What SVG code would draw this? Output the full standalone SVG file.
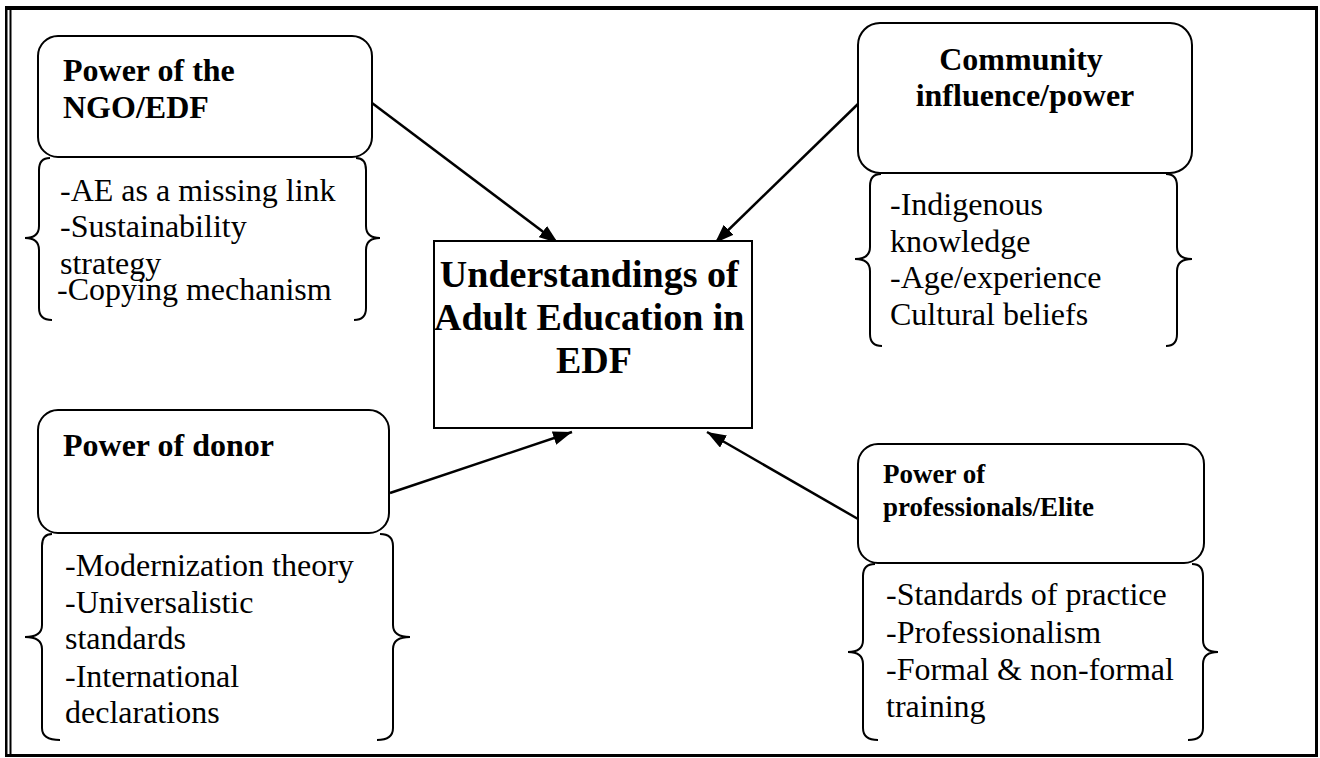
<svg xmlns="http://www.w3.org/2000/svg" width="1320" height="758" viewBox="0 0 1320 758">
  <style>
    .box { fill: #ffffff; stroke: #000000; stroke-width: 2; }
    .brace { fill: none; stroke: #000000; stroke-width: 2; }
    .frame { fill: #000000; }
    .edge { stroke: #000000; stroke-width: 2.5; fill: none; }
    .title { font-family: "Liberation Serif", "Times New Roman", serif; font-weight: bold; font-size: 32px; fill: #000000; }
    .small-title { font-family: "Liberation Serif", "Times New Roman", serif; font-weight: bold; font-size: 27px; fill: #000000; }
    .center-title { font-family: "Liberation Serif", "Times New Roman", serif; font-weight: bold; font-size: 38px; fill: #000000; }
    .body { font-family: "Liberation Serif", "Times New Roman", serif; font-size: 32px; fill: #000000; }
  </style>
  <defs>
    <marker id="arrow" markerUnits="userSpaceOnUse" markerWidth="19" markerHeight="14" refX="19" refY="7" orient="auto">
      <path d="M0,0 L19,7 L0,14 Z" fill="#000000"/>
    </marker>
  </defs>

  <rect x="0" y="0" width="1320" height="758" fill="#ffffff"/>

  <!-- page frame: heavy top, double left rule, heavy right and bottom -->
  <g id="frame">
    <rect class="frame" x="5" y="6" width="1313" height="4"/>
    <rect class="frame" x="5" y="6" width="2.5" height="751"/>
    <rect class="frame" x="9.5" y="10" width="2" height="745"/>
    <rect class="frame" x="1315" y="6" width="3" height="751"/>
    <rect class="frame" x="5" y="754" width="1313" height="3"/>
  </g>

  <!-- connectors -->
  <g id="connectors">
    <line class="edge" x1="372" y1="103" x2="558" y2="243" marker-end="url(#arrow)"/>
    <line class="edge" x1="859" y1="103" x2="715" y2="243" marker-end="url(#arrow)"/>
    <line class="edge" x1="390" y1="493" x2="572" y2="432" marker-end="url(#arrow)"/>
    <line class="edge" x1="858" y1="519" x2="707" y2="432" marker-end="url(#arrow)"/>
  </g>

  <!-- central concept -->
  <g id="center">
    <rect class="box" x="434" y="241" width="318" height="187"/>
    <text class="center-title" text-anchor="middle">
      <tspan x="594" y="287">Understandings of</tspan>
      <tspan x="594" y="330">Adult Education in</tspan>
      <tspan x="594" y="373">EDF</tspan>
    </text>
  </g>

  <!-- NGO / EDF -->
  <g id="ngo">
    <rect class="box" x="38" y="36" width="334" height="121" rx="20"/>
    <path class="brace" d="M50,158 Q39,158 39,170 L39,226 Q39,238 25,238 Q39,238 39,250 L39,308 Q39,320 52,320"/>
    <path class="brace" d="M356,158 Q366,158 366,170 L366,226 Q366,238 380,238 Q366,238 366,250 L366,308 Q366,320 354,320"/>
    <text class="title">
      <tspan x="63" y="81">Power of the</tspan>
      <tspan x="63" y="118">NGO/EDF</tspan>
    </text>
    <text class="body">
      <tspan x="60" y="201">-AE as a missing link</tspan>
      <tspan x="60" y="237">-Sustainability</tspan>
      <tspan x="60" y="274">strategy</tspan>
      <tspan x="57" y="300">-Copying mechanism</tspan>
    </text>
  </g>

  <!-- Community -->
  <g id="community">
    <rect class="box" x="858" y="23" width="334" height="150" rx="22"/>
    <path class="brace" d="M881,174 Q870,174 870,186 L870,247 Q870,259 855,259 Q870,259 870,271 L870,334 Q870,346 882,346"/>
    <path class="brace" d="M1166,174 Q1177,174 1177,186 L1177,247 Q1177,259 1192,259 Q1177,259 1177,271 L1177,334 Q1177,346 1166,346"/>
    <text class="title" text-anchor="middle">
      <tspan x="1025" y="70">Community</tspan>
      <tspan x="1025" y="106">influence/power</tspan>
    </text>
    <text class="body">
      <tspan x="890" y="215">-Indigenous</tspan>
      <tspan x="890" y="252">knowledge</tspan>
      <tspan x="890" y="288">-Age/experience</tspan>
      <tspan x="890" y="325">Cultural beliefs</tspan>
    </text>
  </g>

  <!-- Donor -->
  <g id="donor">
    <rect class="box" x="38" y="410" width="351" height="123" rx="20"/>
    <path class="brace" d="M52,534 Q42,534 42,546 L42,625 Q42,637 25,637 Q42,637 42,649 L42,728 Q42,740 60,740"/>
    <path class="brace" d="M380,534 Q393,534 393,546 L393,625 Q393,637 410,637 Q393,637 393,649 L393,728 Q393,740 377,740"/>
    <text class="title">
      <tspan x="63" y="456">Power of donor</tspan>
    </text>
    <text class="body">
      <tspan x="65" y="576">-Modernization theory</tspan>
      <tspan x="65" y="613">-Universalistic</tspan>
      <tspan x="65" y="649">standards</tspan>
      <tspan x="65" y="687">-International</tspan>
      <tspan x="65" y="723">declarations</tspan>
    </text>
  </g>

  <!-- Professionals / Elite -->
  <g id="professionals">
    <rect class="box" x="858" y="444" width="346" height="119" rx="20"/>
    <path class="brace" d="M875,564 Q863,564 863,576 L863,640 Q863,652 848,652 Q863,652 863,664 L863,728 Q863,740 878,740"/>
    <path class="brace" d="M1192,564 Q1203,564 1203,576 L1203,640 Q1203,652 1218,652 Q1203,652 1203,664 L1203,728 Q1203,740 1188,740"/>
    <text class="small-title">
      <tspan x="883" y="483">Power of</tspan>
      <tspan x="883" y="516">professionals/Elite</tspan>
    </text>
    <text class="body">
      <tspan x="886" y="605">-Standards of practice</tspan>
      <tspan x="886" y="643">-Professionalism</tspan>
      <tspan x="886" y="680">-Formal &amp; non-formal</tspan>
      <tspan x="886" y="717">training</tspan>
    </text>
  </g>
</svg>
